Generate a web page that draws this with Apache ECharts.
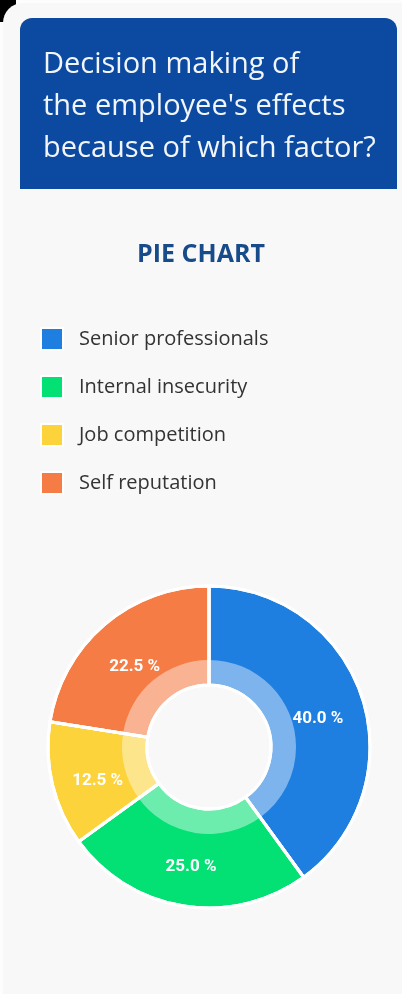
<!DOCTYPE html>
<html>
<head>
<meta charset="utf-8">
<script src="https://cdn.jsdelivr.net/npm/echarts@6/dist/echarts.min.js"></script>
<style>
  html, body { margin: 0; padding: 0; background: #fdfdfd; }
  #corner { position: absolute; left: 0; top: 0; width: 16px; height: 22px; background: #000; }
  #card { position: absolute; left: 3px; top: 3px; width: 420px; height: 1010px; background: #f8f8f8; border-radius: 20px; }
  #chart { position: absolute; left: 0; top: 0; width: 402px; height: 994px; }
</style>
</head>
<body>
<div id="corner"></div>
<div id="card"></div>
<div id="chart"></div>
<script>
// Share of each factor affecting employee decision making (percent)
const categories = ['Senior professionals', 'Internal insecurity', 'Job competition', 'Self reputation'];
const shares = [40.0, 25.0, 12.5, 22.5];
const colors = ['#1f7fe0', '#03e174', '#fcd33a', '#f57d45'];

const headerText = "Decision making of\nthe employee's effects\nbecause of which factor?";
const subTitle = 'PIE CHART';

const pieData = categories.map((name, i) => ({ name, value: shares[i], itemStyle: { color: colors[i] } }));
const plainData = categories.map((name, i) => ({ name, value: shares[i] }));

const CENTER = [209, 747];

const chart = echarts.init(document.getElementById('chart'), null, { renderer: 'canvas' });
chart.setOption({
  animation: false,
  backgroundColor: 'transparent',
  graphic: [{
    type: 'rect',
    z: -10,
    shape: { x: 20, y: 18, width: 377, height: 171, r: [12, 12, 0, 0] },
    style: { fill: '#0b4aa0' }
  }],
  title: [{
    text: headerText,
    left: 43,
    top: 44,
    padding: 0,
    textStyle: { color: '#f2f5fa', fontFamily: 'Open Sans', fontWeight: 'normal', fontSize: 29, lineHeight: 42 }
  }, {
    text: subTitle,
    left: 'center',
    top: 242,
    padding: 0,
    textStyle: { color: '#184b8a', fontFamily: 'Open Sans', fontWeight: 'bold', fontSize: 25 }
  }],
  legend: {
    orient: 'vertical',
    left: 40,
    top: 327,
    padding: 0,
    itemWidth: 22,
    itemHeight: 22,
    itemGap: 24,
    icon: 'rect',
    selectedMode: false,
    data: categories,
    textStyle: { color: '#333', fontFamily: 'Open Sans', fontSize: 20, padding: [0, 0, 0, 11] }
  },
  series: [{
    // coloured ring with value labels
    type: 'pie',
    center: CENTER,
    radius: [62, 161],
    startAngle: 90,
    clockwise: true,
    silent: true,
    z: 2,
    itemStyle: { borderColor: '#ffffff', borderWidth: 3 },
    label: {
      position: 'inside',
      color: '#ffffff',
      fontFamily: 'Roboto',
      fontWeight: 'bold',
      fontSize: 17,
      offset: [0, 7],
      formatter: p => p.value.toFixed(1) + ' %'
    },
    labelLine: { show: false },
    data: pieData
  }, {
    // lighter inner band
    type: 'pie',
    center: CENTER,
    radius: [62, 87],
    startAngle: 90,
    clockwise: true,
    silent: true,
    z: 3,
    itemStyle: { color: 'rgba(255,255,255,0.42)', borderWidth: 0 },
    label: { show: false },
    labelLine: { show: false },
    data: plainData
  }, {
    // white separators between slices
    type: 'pie',
    center: CENTER,
    radius: [62, 161],
    startAngle: 90,
    clockwise: true,
    silent: true,
    z: 4,
    itemStyle: { color: 'rgba(0,0,0,0)', borderColor: '#ffffff', borderWidth: 3 },
    label: { show: false },
    labelLine: { show: false },
    data: plainData
  }]
});
</script>
</body>
</html>
